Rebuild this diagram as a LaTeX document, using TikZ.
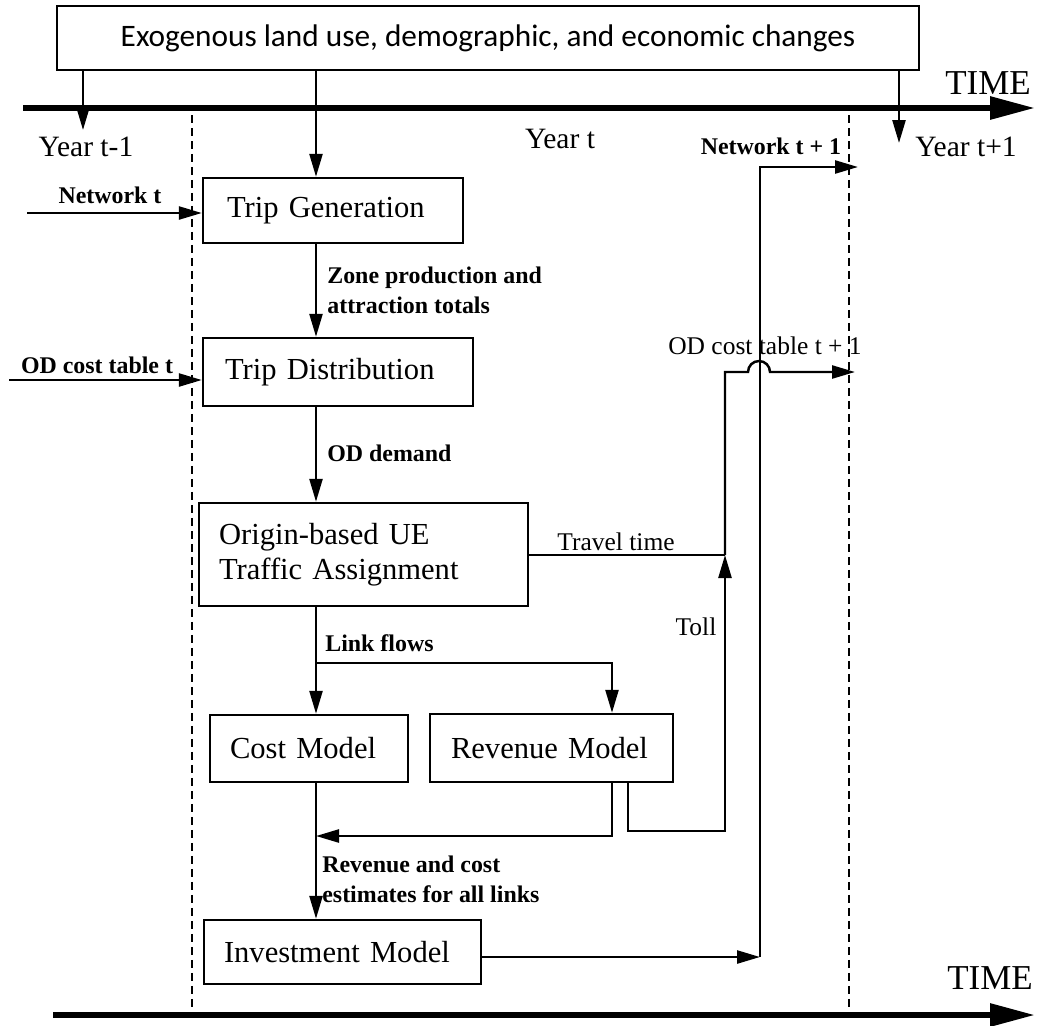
\documentclass[tikz,border=0pt]{standalone}
\usepackage{fontspec}
\setmainfont{Liberation Serif}
\newfontfamily\calfont{Carlito}
\usetikzlibrary{arrows.meta,calc}
\newcommand\boxfont{\fontsize{17.4}{19.9}\selectfont}
\newcommand\labfont{\fontsize{14.5}{17}\selectfont}
\newcommand\blabfont{\bfseries\fontsize{13.6}{17}\selectfont}
\newcommand\yearfont{\fontsize{16.8}{19}\selectfont}
\newcommand\timefont{\fontsize{19.9}{22}\selectfont}
\begin{document}
\begin{tikzpicture}[x=0.02cm,y=-0.02cm,
  box/.style={draw, line width=1.4pt, inner ysep=0pt, align=left, font=\boxfont},
  lab/.style={inner sep=0pt, font=\labfont},
  blab/.style={inner sep=0pt, font=\blabfont},
  yearlab/.style={inner sep=0pt, font=\yearfont},
  timelab/.style={inner sep=0pt, font=\timefont},
  conn/.style={line width=1.4pt, -{Triangle[length=0.46cm,width=0.26cm]}},
  wire/.style={line width=1.4pt},
  timeaxis/.style={line width=0.12cm, -{Triangle[length=0.9cm,width=0.44cm]}},
  sep/.style={line width=1.2pt, dash pattern=on 0.16cm off 0.1cm}]
\useasboundingbox (0,0) rectangle (1037,1025);
\fill[white] (0,0) rectangle (1037,1025);

% top box
\node[draw, line width=1.4pt, minimum width=17.24cm, minimum height=1.28cm, font=\calfont\fontsize{17.8}{20}\selectfont] (top) at (488,38) {Exogenous land use, demographic, and economic changes};

% time axes
\coordinate (ts) at (23,108);
\coordinate (te) at (1035,108);
\coordinate (bs) at (53,1015);
\coordinate (be) at (1035,1015);
\draw[timeaxis] (ts) -- (te);
\draw[timeaxis] (bs) -- (be);
\node[timelab] (time1) at (988,83) {TIME};
\node[timelab] (time2) at (990,978) {TIME};

% separators
\coordinate (d1t) at (192,115);
\coordinate (d1b) at (192,1010);
\coordinate (d2t) at (849,115);
\coordinate (d2b) at (849,1010);
\draw[sep] (d1t) -- (d1b);
\draw[sep] (d2t) -- (d2b);

% year labels
\node[yearlab] (y1) at (86,147) {Year t-1};
\node[yearlab] (y2) at (560,139) {Year t};
\node[yearlab] (y3) at (966,147) {Year t+1};

% boxes
\node[box, minimum width=5.2cm, minimum height=1.3cm, inner xsep=0.48cm, text width=4.24cm] (tg) at (333,210.5) {Trip Generation};
\node[box, minimum width=5.4cm, minimum height=1.36cm, inner xsep=0.44cm, text width=4.52cm] (td) at (338,372) {Trip Distribution};
\node[box, minimum width=6.58cm, minimum height=2.06cm, inner xsep=0.4cm, text width=5.78cm] (ue) at (363.5,554.5) {Origin-based UE\\Traffic Assignment};
\node[box, minimum width=3.96cm, minimum height=1.34cm, inner xsep=0.4cm, text width=3.16cm] (cm) at (309,748.5) {Cost Model};
\node[box, minimum width=4.86cm, minimum height=1.36cm, inner xsep=0.42cm, text width=4.02cm] (rv) at (551.5,748) {Revenue Model};
\node[box, minimum width=5.54cm, minimum height=1.28cm, inner xsep=0.4cm, text width=4.74cm] (inv) at (342.5,952) {Investment Model};

% arrows from top box
\coordinate (a1) at (83,130);
\coordinate (a3) at (899,143);
\coordinate (cx) at (316,0);
\draw[conn] (a1 |- top.south) -- (a1);
\draw[conn] (cx |- top.south) -- (cx |- tg.north);
\draw[conn] (a3 |- top.south) -- (a3);

% inputs from year t-1
\coordinate (nt) at (27,213);
\coordinate (odt) at (9,380);
\draw[conn] (nt) -- (nt -| tg.west);
\draw[conn] (odt) -- (odt -| td.west);
\node[blab] (ntl) at (110,195) {Network t};
\node[blab] (odtl) at (97,365) {OD cost table t};

% main chain
\draw[conn] (cx |- tg.south) -- (cx |- td.north);
\node[blab, anchor=west, align=left] (zl) at (327,290) {Zone production and\\attraction totals};
\draw[conn] (cx |- td.south) -- (cx |- ue.north);
\node[blab, anchor=west] (odl) at (327,453) {OD demand};

% link flows
\coordinate (lf) at (316,663);
\coordinate (rv1) at (612,0);
\coordinate (rv2) at (628,0);
\draw[conn] (cx |- ue.south) -- (cx |- cm.north);
\draw[conn] (lf) -- (rv1 |- lf) -- (rv1 |- rv.north);
\node[blab, anchor=west] (lfl) at (325,643) {Link flows};

% revenue to cost
\coordinate (rc) at (316,836);
\draw[conn] (rv1 |- rv.south) -- (rv1 |- rc) -- (rc);
\draw[conn] (cx |- cm.south) -- (cx |- inv.north);
\node[blab, anchor=west, align=left] (rcl) at (322,879) {Revenue and cost\\estimates for all links};

% travel time and toll
\coordinate (j1) at (725,555);
\coordinate (j2) at (725,831);
\coordinate (j3) at (725,372);
\coordinate (hopL) at (748,372);
\coordinate (od1) at (855,372);
\draw[wire] (j1 -| ue.east) -- (j1);
\node[lab] (ttl) at (616,542) {Travel time};
\draw[conn] (rv2 |- rv.south) -- (rv2 |- j2) -- (j2) -- (j1);
\node[lab] (tolll) at (696,627) {Toll};
\draw[conn] (j1) -- (j3) -- (hopL) arc[start angle=180, end angle=0, radius=0.22cm] -- (od1);
\node[lab] (od1l) at (765,346) {OD cost table t + 1};

% investment to network
\coordinate (nv) at (760,957);
\coordinate (n1) at (858,167);
\draw[conn] (nv -| inv.east) -- (nv);
\draw[conn] (nv) -- (nv |- n1) -- (n1);
\node[blab] (n1l) at (771,146) {Network t + 1};
\end{tikzpicture}
\end{document}
